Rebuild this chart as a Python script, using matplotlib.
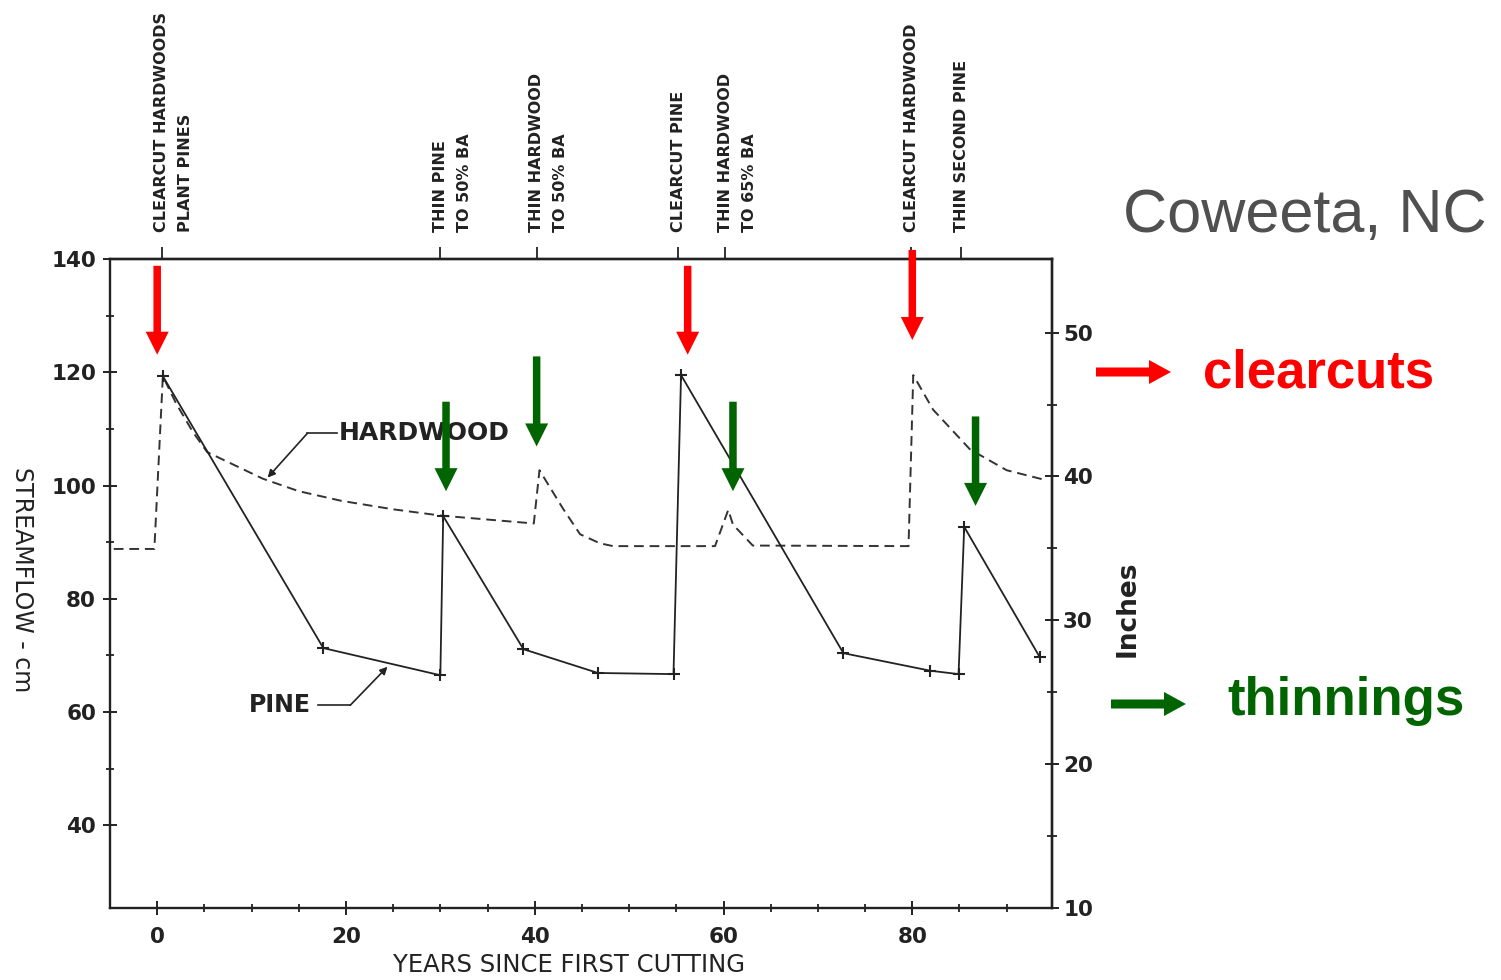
import matplotlib
matplotlib.use('Agg')
import matplotlib.pyplot as plt
import matplotlib.transforms as mtransforms
from matplotlib.patches import FancyArrow

# ---------------- data ----------------
pine_years = [0.6, 17.6, 30.0, 30.3, 38.8, 46.7, 54.7, 55.5, 72.7, 81.9, 84.9, 85.5, 93.5]
pine_cm = [119.3, 71.3, 66.5, 94.6, 71.1, 66.9, 66.7, 119.5, 70.4, 67.3, 66.7, 92.7, 69.7]

hw_years = [-4.6, -0.3, 0.6, 2.0, 3.8, 5.3, 11.2, 15.0, 19.5, 25.0, 30.0, 39.9, 40.5,
            43.0, 44.8, 46.9, 48.3, 59.1, 60.5, 61.0, 63.1, 79.6, 80.1, 82.2, 86.1,
            90.0, 93.8]
hw_cm = [88.8, 88.8, 119.3, 114.5, 109.4, 105.9, 101.2, 99.0, 97.3, 95.8, 94.7, 93.3, 102.7,
         95.9, 91.4, 89.8, 89.3, 89.3, 95.7, 93.1, 89.4, 89.3, 119.5, 113.4, 106.4,
         102.7, 101.1]

event_years = [0.5, 30.0, 40.2, 55.2, 60.2, 79.9, 85.2]
event_labels = ["CLEARCUT HARDWOODS\nPLANT PINES", "THIN PINE\nTO 50% BA",
                "THIN HARDWOOD\nTO 50% BA", "CLEARCUT PINE",
                "THIN HARDWOOD\nTO 65% BA", "CLEARCUT HARDWOOD", "THIN SECOND PINE"]

clearcut_years = [0.0, 56.2, 80.0]
clearcut_top = [138.8, 138.8, 141.6]
clearcut_tip = [123.1, 123.1, 125.7]

thin_years = [30.6, 40.2, 61.0, 86.7]
thin_top = [114.8, 122.8, 114.8, 112.2]
thin_tip = [99.0, 106.9, 99.0, 96.4]

x_major = [0, 20, 40, 60, 80]
x_minor = [5, 10, 15, 25, 30, 35, 45, 50, 55, 65, 70, 75, 85, 90]
y_major = [40, 60, 80, 100, 120, 140]
y_minor = [50, 70, 90, 110, 130]
in_major = [10, 20, 30, 40, 50]
in_minor = [15, 25, 35, 45]

# ---------------- figure ----------------
W, H = 1501, 980
fig = plt.figure(figsize=(W / 100, H / 100), dpi=100)
ax = fig.add_axes([110 / W, 72 / H, 942 / W, 649 / H])

ink = '#222222'
ax.plot(hw_years, hw_cm, color='#333333', lw=1.4, dashes=(5, 3), zorder=3)
ax.plot(pine_years, pine_cm, color='#222222', lw=1.3, marker='+', ms=8, mew=1.5, zorder=4)

ax.set_xlim(-5, 94.8)
ax.set_ylim(25.4, 140)

for s in ax.spines.values():
    s.set_color(ink)
    s.set_linewidth(1.7)

ax.set_xticks(x_major)
ax.set_xticks(x_minor, minor=True)
ax.set_yticks(y_major)
ax.set_yticks(y_minor, minor=True)
ax.tick_params(which='both', top=False, right=False, direction='inout', color=ink)
ax.tick_params(which='major', length=10, width=1.4, labelsize=15.5, labelcolor=ink)
ax.tick_params(which='minor', length=6, width=1.3)
ax.tick_params(axis='x', which='major', pad=9)
ax.tick_params(axis='y', which='major', pad=5)
for lab in ax.get_xticklabels() + ax.get_yticklabels():
    lab.set_fontweight('bold')

# right axis in inches
secy = ax.secondary_yaxis('right', functions=(lambda c: c / 2.54, lambda i: i * 2.54))
secy.set_yticks(in_major)
secy.set_yticks(in_minor, minor=True)
secy.tick_params(which='both', direction='inout', color=ink)
secy.tick_params(which='major', length=10, width=1.4, labelsize=15.5, labelcolor=ink, pad=3)
secy.tick_params(which='minor', length=7, width=1.3)
secy.spines['right'].set_linewidth(1.7)
secy.spines['right'].set_color(ink)
for lab in secy.get_yticklabels():
    lab.set_fontweight('bold')

# top event ticks
secx = ax.secondary_xaxis('top')
secx.set_xticks(event_years)
secx.set_xticklabels([])
secx.tick_params(direction='out', length=9, width=1.3, color=ink)
secx.spines['top'].set_linewidth(1.7)
secx.spines['top'].set_color(ink)

# event labels (rotated, one text per line)
blend = mtransforms.blended_transform_factory(ax.transData, ax.transAxes)
for x, lab in zip(event_years, event_labels):
    for i, line in enumerate(lab.split('\n')):
        tr = blend + mtransforms.ScaledTranslation(i * 0.24, 0.27, fig.dpi_scale_trans)
        ax.text(x, 1, line, transform=tr, rotation=90, ha='center', va='bottom',
                fontsize=11.5, fontweight='bold', color=ink, clip_on=False)

# series labels with leaders
ax.text(19.2, 109.2, 'HARDWOOD', ha='left', va='center', fontsize=18,
        fontweight='bold', color=ink, zorder=2)
ax.plot([19.0, 15.9], [109.2, 109.2], color=ink, lw=1.2)
ax.annotate('', xy=(11.7, 101.4), xytext=(15.9, 109.2),
            arrowprops=dict(arrowstyle='-|>', lw=1.2, color=ink, mutation_scale=11,
                            shrinkA=0, shrinkB=0))
ax.text(16.3, 61.2, 'PINE', ha='right', va='center', fontsize=17,
        fontweight='bold', color=ink)
ax.plot([17.0, 20.45], [61.2, 61.2], color=ink, lw=1.2)
ax.annotate('', xy=(24.4, 68.0), xytext=(20.45, 61.2),
            arrowprops=dict(arrowstyle='-|>', lw=1.2, color=ink, mutation_scale=11,
                            shrinkA=0, shrinkB=0))

# vertical arrows (data units: x 9.4375 px/yr, y 5.66 px/cm)
px_x, px_y = 9.4375, 5.66
def vert_arrow(x, top, tip, color):
    a = FancyArrow(x, top, 0, tip - top, width=7.5 / px_x, head_width=23 / px_x,
                   head_length=23 / px_y, length_includes_head=True,
                   color=color, lw=0, zorder=6, clip_on=False)
    ax.add_patch(a)

for x, t, p in zip(clearcut_years, clearcut_top, clearcut_tip):
    vert_arrow(x, t, p, '#ff0000')
for x, t, p in zip(thin_years, thin_top, thin_tip):
    vert_arrow(x, t, p, '#006400')

# legend arrows in figure coordinates
def horiz_arrow(x0, x1, y, color):
    a = FancyArrow(x0 / W, 1 - y / H, (x1 - x0) / W, 0, width=9 / H, head_width=24 / H,
                   head_length=22 / W, length_includes_head=True, color=color, lw=0,
                   transform=fig.transFigure)
    fig.add_artist(a)

horiz_arrow(1096, 1171, 372, '#ff0000')
horiz_arrow(1111, 1186, 704, '#006400')

fig.text(1203 / W, 1 - 388 / H, 'clearcuts', color='#ff0000', fontsize=38,
         fontweight='bold', family='Liberation Sans', ha='left', va='baseline')
fig.text(1227 / W, 1 - 715 / H, 'thinnings', color='#006400', fontsize=38,
         fontweight='bold', family='Liberation Sans', ha='left', va='baseline')
fig.text(1123 / W, 1 - 232 / H, 'Coweeta, NC', color='#505050', fontsize=44,
         family='Liberation Sans', ha='left', va='baseline')

# axis titles
fig.text(22 / W, 1 - 580 / H, 'STREAMFLOW - cm', rotation=-90, ha='center', va='center',
         fontsize=17, color=ink)
fig.text(569 / W, 1 - 965 / H, 'YEARS SINCE FIRST CUTTING', ha='center', va='center',
         fontsize=17.5, color=ink)
fig.text(1128 / W, 1 - 609 / H, 'Inches', rotation=90, ha='center', va='center',
         fontsize=19, fontweight='bold', color=ink)

fig.savefig('out.png', dpi=100)
